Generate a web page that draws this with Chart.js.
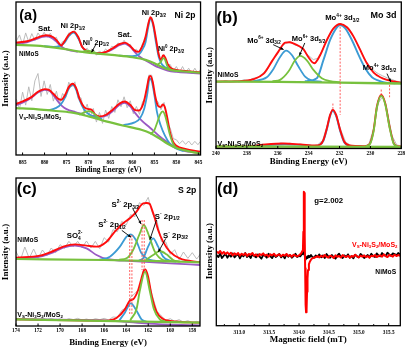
<!DOCTYPE html>
<html><head><meta charset="utf-8">
<script src="https://cdn.jsdelivr.net/npm/chart.js@4.4.1/dist/chart.umd.min.js"></script>
<style>
html,body{margin:0;padding:0;background:#fff;width:415px;height:350px;overflow:hidden}
.p{position:absolute}
canvas{display:block}
</style></head><body>
<div class="p" style="left:0;top:0;width:207px;height:175px"><canvas id="ca" width="207" height="175" style="width:207px;height:175px"></canvas></div>
<div class="p" style="left:203px;top:0;width:212px;height:175px"><canvas id="cb" width="212" height="175" style="width:212px;height:175px"></canvas></div>
<div class="p" style="left:0;top:175px;width:207px;height:175px"><canvas id="cc" width="207" height="175" style="width:207px;height:175px"></canvas></div>
<div class="p" style="left:203px;top:175px;width:212px;height:175px"><canvas id="cd" width="212" height="175" style="width:212px;height:175px"></canvas></div>
<script>
// ---------------- tick labels ----------------
const ticksA = [885,880,875,870,865,860,855,850,845];
const ticksB = [240,238,236,234,232,230,228];
const ticksC = [174,172,170,168,166,164,162,160,158];
const ticksD = [313.0,313.5,314.0,314.5,315.0,315.5];
const minorD = [312.75,313.25,313.75,314.25,314.75,315.25];

// ---------------- (a) Ni 2p : binding energy (eV), intensity (a.u.) ----------------
const energiesA = [886.4,885.7,885.0,884.3,883.6,882.9,882.2,881.5,880.8,880.1,879.4,878.7,878.0,877.3,876.6,875.9,875.2,874.5,873.8,873.1,872.4,871.7,871.0,870.3,869.6,868.9,868.2,867.5,866.8,866.1,865.4,864.7,864.0,863.3,862.6,861.9,861.2,860.5,859.8,859.1,858.4,857.7,857.0,856.3,855.6,854.9,854.2,853.5,852.8,852.1,851.4,850.7,850.0,849.3,848.6,847.9,847.2,846.5,845.8,845.1,844.6];
const rawNiMoS_A = [343,361,332,367,340,365,344,367,353,369,354,366,349,354,328,341,344,367,366,374,350,339,314,321,305,316,300,313,303,319,310,327,322,337,330,345,329,333,313,318,308,335,350,403,414,364,317,281,302,272,272,253,266,248,266,248,261,245,261,245,256];
const rawVs_A = [167,138,189,150,205,163,223,245,176,223,182,212,162,192,153,185,172,219,205,220,170,172,130,153,115,140,99,128,95,135,110,146,128,166,145,175,142,163,124,146,122,160,172,240,240,169,160,136,158,98,81,49,46,34,43,32,42,30,41,31,40];
const envNiMoS_A = [[886.5,338],[884,342],[882,351],[880.5,358],[879.6,360],[878,354],[877,341],[876.2,329],[875.5,341],[874.5,361],[873.4,371],[872.3,354],[871.5,326],[870.5,314],[869.5,309],[868,306],[866,310],[864.5,321],[863,333],[861.7,338],[860.5,328],[859.5,314],[858.7,310],[857.8,326],[857,356],[856.4,394],[855.9,414],[855.3,396],[854.6,346],[854,301],[853.5,286],[853,300],[852.5,292],[852,274],[851.2,261],[850,256],[848,253],[844.5,248]];
const bgNiMoS_A = [[886.5,331],[882,329],[879.6,326],[876,320],[872,311],[868,305],[864,300],[860,294],[857,286],[855,276],[853.5,266],[852,258],[850,253],[847,250],[844.5,247]];
const ni0a_NiMoS_A = [[871.2,311],[870.2,314],[869.2,311],[868.2,306]];
const ni0b_NiMoS_A = [[854.2,272],[853.6,279],[853.2,288],[852.9,291],[852.5,284],[852.1,268],[851.6,259],[851,256]];
const ni12_NiMoS_A = [[880,327],[878,325],[876.5,328],[875.5,337],[874.5,357],[873.4,368],[872.3,350],[871.4,324],[870.4,313],[869,308],[867.5,305]];
const ni32_NiMoS_A = [[863,299],[860,297],[858.5,303],[857.7,318],[857,340],[856.4,385],[855.9,410],[855.3,390],[854.6,335],[854,294],[853.3,273],[852.3,262],[851,256],[849.5,252]];
const sat1_NiMoS_A = [[886.5,336],[884,339],[882,348],[880.5,355],[879.6,357],[878.5,353],[877.5,343],[876.5,330],[875.5,320],[874,314],[872.5,311]];
const sat2_NiMoS_A = [[869,307],[867,307],[865.5,312],[864.5,318],[863,330],[861.7,335],[860.5,325],[859.5,310],[858.5,297],[857,284],[855.5,273],[854,263],[852,254],[850,250],[847,247],[844.5,245]];
const envVs_A = [[886.5,154],[885,161],[883,174],[881.5,190],[880,198],[879,196],[878,184],[877,170],[876.2,166],[875.3,181],[874.5,204],[873.6,214],[872.8,201],[872,168],[871,144],[870,138],[869.3,136],[868.5,122],[867.5,116],[866,121],[864.5,136],[863,154],[861.8,161],[860.5,151],[859.5,136],[858.5,134],[857.5,156],[856.8,196],[856.2,234],[855.9,238],[855.4,221],[854.8,176],[854.2,148],[853.6,144],[853.1,152],[852.6,143],[852.1,114],[851.5,71],[850.8,41],[850,28],[848,18],[844.5,10]];
const bgVs_A = [[886.5,141],[882,138],[878,133],[874,128],[870,116],[866,101],[862,88],[858,76],[856,66],[854,51],[852,34],[850,21],[847,11],[844.5,4]];
const ni0a_Vs_A = [[872,122],[871.2,127],[870.4,131],[869.8,132],[869,127],[868.2,117],[867.5,112]];
const ni0b_Vs_A = [[855.8,64],[855,75],[854.3,100],[853.7,122],[853.1,131],[852.6,120],[852.1,95],[851.5,62],[850.9,38],[850.2,24],[849.5,18]];
const ni12_Vs_A = [[879,135],[877.5,141],[876.3,152],[875.3,174],[874.5,199],[873.6,211],[872.8,196],[872,164],[871,137],[870,123],[868.5,114],[867,108]];
const ni32_Vs_A = [[862,90],[859.5,98],[858.3,110],[857.3,140],[856.6,185],[856.1,230],[855.6,222],[855,180],[854.4,128],[853.6,90],[852.6,58],[851.5,34],[850.2,20],[848.5,12]];
const sat1_Vs_A = [[886.5,150],[885,157],[883,172],[881.5,188],[880,196],[879,194],[878,180],[877,162],[876,147],[875,138],[873,129],[871,122]];
const sat2_Vs_A = [[869,118],[867.5,114],[866,118],[864.5,132],[863,150],[861.8,157],[860.5,146],[859.5,128],[858,105],[856,82],[854,58],[852,38],[850,22],[848,12],[846,8],[844.5,5]];

// ---------------- (b) Mo 3d ----------------
const energiesB = [240.0,239.7,239.4,239.1,238.8,238.5,238.2,237.9,237.6,237.3,237.0,236.7,236.4,236.1,235.8,235.5,235.2,234.9,234.6,234.3,234.0,233.7,233.4,233.1,232.8,232.5,232.2,231.9,231.6,231.3,231.0,230.7,230.4,230.1,229.8,229.5,229.2,228.9,228.6,228.3,228.0];
const rawNiMoS_B = [204,200,205,201,204,201,208,205,212,213,226,235,264,280,305,316,322,312,308,293,280,268,272,298,326,358,368,377,364,354,328,303,270,252,236,226,219,213,208,203,201];
const rawVs_B = [9,6,8,6,9,6,9,7,11,9,14,12,16,13,18,15,17,12,15,11,13,9,13,25,70,118,96,55,20,11,7,10,7,14,60,136,158,110,40,12,8];
const envNiMoS_B = [[240,202],[238.5,203],[237.58,209],[236.93,225],[236.39,262],[235.96,292],[235.52,319],[235.25,320],[234.95,316],[234.6,308],[234.35,300],[234.01,275],[233.64,257],[233.25,282],[232.82,327],[232.39,362],[231.96,375],[231.52,365],[231.09,337],[230.66,297],[230.23,257],[229.79,229],[229.36,215],[228.93,207],[228,198]];
const bgNiMoS_B = [[240,202],[236,201],[232,199],[228,196]];
const mo6a_NiMoS_B = [[237.6,203],[236.71,215],[236.28,240],[235.85,276],[235.46,295],[235.09,282],[234.66,247],[234.23,217],[233.79,205],[233.2,202]];
const mo4a_NiMoS_B = [[234.2,203],[233.47,212],[233.04,267],[232.61,327],[232.17,365],[231.96,372],[231.63,362],[231.2,327],[230.77,282],[230.34,242],[229.9,215],[229.47,205],[229,199],[228.4,197]];
const mo6b_NiMoS_B = [[236.3,203],[235.85,207],[235.31,232],[234.88,266],[234.55,279],[234.12,266],[233.69,237],[233.15,212],[232.6,203],[232,200]];
const envVs_B = [[240,7],[237.8,8],[236.8,13],[235.6,16],[234.5,13],[233.6,10],[233.25,13],[233.04,27],[232.82,62],[232.61,102],[232.43,117],[232.22,102],[231.96,57],[231.7,22],[231.35,10],[230.5,8],[230.2,10],[230.01,18],[229.79,57],[229.58,127],[229.3,162],[229.04,137],[228.76,67],[228.5,18],[228.25,8],[228,7]];
const bgVs_B = [[240,7],[228,6]];
const mo6_Vs_B = [[237.6,7],[236.6,11],[235.5,13],[234.4,11],[233.5,8]];
const mo4a_Vs_B = [[233.4,8],[233.04,25],[232.82,59],[232.61,99],[232.43,114],[232.22,99],[231.96,54],[231.7,20],[231.4,9],[231,7]];
const mo4b_Vs_B = [[230.3,7],[230.01,16],[229.79,54],[229.58,124],[229.3,159],[229.04,134],[228.76,64],[228.5,16],[228.25,7]];

// ---------------- (c) S 2p ----------------
const energiesC = [174.0,173.6,173.2,172.8,172.4,172.0,171.6,171.2,170.8,170.4,170.0,169.6,169.2,168.8,168.4,168.0,167.6,167.2,166.8,166.4,166.0,165.6,165.2,164.8,164.4,164.0,163.6,163.2,162.8,162.4,162.0,161.6,161.2,160.8,160.4,160.0,159.6,159.2,158.8,158.4,158.0,157.6,157.2];
const rawNiMoS_C = [223,198,237,203,231,202,228,211,234,220,244,233,254,238,254,235,255,234,254,232,265,252,289,283,314,303,334,328,370,362,386,337,315,253,252,215,229,199,222,203,220,201,219];
const rawVs_C = [22,18,23,19,22,17,23,19,22,18,21,17,22,19,23,18,21,17,22,19,23,18,27,26,47,55,86,98,112,172,140,88,44,30,17,22,14,19,12,16,10,14,9];
const envNiMoS_C = [[174,205],[171.82,211],[170.62,225],[169.71,238],[168.65,245],[167.6,241],[166.69,238],[165.78,253],[165.03,283],[164.27,308],[163.67,323],[163.06,343],[162.76,358],[162.46,368],[162.16,369],[161.86,366],[161.7,353],[161.4,323],[161.1,288],[160.65,253],[160.04,223],[159.14,203],[157.3,191]];
const bgNiMoS_C = [[174,201],[166,198],[160,194],[157.3,191]];
const so4_NiMoS_C = [[174,203],[171.82,208],[170.62,221],[169.71,235],[168.65,241],[167.6,233],[166.69,213],[165.78,201],[163.4,195],[160,188],[157.3,183]];
const s2p12_NiMoS_C = [[166.4,199],[165.48,208],[164.57,238],[163.97,268],[163.58,275],[163.12,258],[162.61,218],[162.01,200],[161.4,196]];
const s1p12_NiMoS_C = [[162.8,197],[162.46,203],[162.01,238],[161.55,263],[161.1,238],[160.65,208],[160.04,196],[159.5,193]];
const s2p32_NiMoS_C = [[164.6,199],[163.97,203],[163.37,228],[162.76,278],[162.4,303],[162.01,278],[161.4,223],[160.65,198],[160,195]];
const s1p32_NiMoS_C = [[162.2,198],[161.55,213],[160.95,225],[160.34,215],[159.74,198],[159.14,193]];
const envVs_C = [[174,20],[166,16],[165.5,17],[164.88,24],[164.12,50],[163.67,76],[163.37,80],[162.91,108],[162.61,143],[162.37,168],[162.25,170],[162.01,148],[161.7,93],[161.25,43],[160.65,21],[160,15],[157.3,10]];
const bgVs_C = [[174,20],[157.3,10]];
const so4_Vs_C = [[174,21],[170,19],[166,17],[164.5,14],[162,7],[159,3],[157.3,2]];
const s2p12_Vs_C = [[164.6,18],[164.12,40],[163.58,68],[163.06,46],[162.61,20],[162.2,13]];
const s2p32_Vs_C = [[163.6,19],[163.06,51],[162.76,106],[162.28,163],[161.86,106],[161.49,51],[160.95,20],[160.5,14]];

// ---------------- (d) EPR : magnetic field (mT) ----------------
const fieldsD = [312.62,312.65,312.68,312.71,312.74,312.77,312.80,312.83,312.86,312.89,312.92,312.95,312.98,313.01,313.04,313.07,313.10,313.13,313.16,313.19,313.22,313.25,313.28,313.31,313.34,313.37,313.40,313.43,313.46,313.49,313.52,313.55,313.58,313.61,313.64,313.67,313.70,313.73,313.76,313.79,313.82,313.85,313.88,313.91,313.94,313.97,314.00,
314.02,314.04,314.055,314.065,314.072,314.08,314.088,314.095,314.102,314.11,314.118,314.126,314.134,314.142,314.15,314.165,314.18,314.2,314.22,314.25,314.28,
314.31,314.34,314.37,314.40,314.43,314.46,314.49,314.52,314.55,314.58,314.61,314.64,314.67,314.70,314.73,314.76,314.79,314.82,314.85,314.88,314.91,314.94,314.97,315.00,315.03,315.06,315.09,315.12,315.15,315.18,315.21,315.24,315.27,315.30,315.33,315.36,315.39,315.42,315.45,315.48,315.51,315.54,315.57,315.60,315.63,315.66,315.69];
const eprVs = [10,6,12,4,9,3,8,2,7,-1,5,1,6,-2,4,0,5,-3,3,1,6,-2,2,-4,3,0,5,-2,1,-5,2,-1,4,-3,0,2,-4,1,-2,3,-3,0,-5,1,-2,-4,-1,
2,6,12,16,70,190,186,60,-40,-150,-172,-165,-110,-70,-45,-28,-20,-14,-10,-8,-6,
-3,-7,-2,-6,0,-5,-8,-2,-4,-9,-1,-5,-3,-7,0,-4,-6,-2,-8,-3,-5,1,-4,-7,-2,-5,-1,-6,-3,-8,-2,-4,0,-6,-3,-1,-5,2,-3,-6,0,-2,-5,1,-3,0,-2];
const eprNiMoS = [0,-6,4,-9,-2,3,-8,1,-5,5,-7,-1,2,-10,0,-4,6,-6,-1,-9,3,-3,-7,2,-5,-11,0,-2,-8,4,-4,-9,1,-6,-2,3,-7,-1,-10,2,-5,0,-8,-3,4,-6,-2,
-4,1,3,6,10,12,5,-2,-8,-14,-10,-6,-9,-3,-7,-2,-6,0,-5,-8,-1,
-5,2,-7,-1,-9,3,-4,-8,0,-6,-11,-2,4,-5,-9,-1,-6,2,-8,-3,-10,1,-4,-7,3,-2,-9,-5,0,-7,4,-3,-6,5,-1,-4,6,0,-3,7,2,-2,5,3,-1,6,2];

// ---------------- helpers ----------------
const SANS = '"Liberation Sans", Arial, Helvetica, sans-serif';
const SERIF = '"Liberation Serif", "Times New Roman", Times, serif';
const RED = '#ff0d0d', BLUE = '#3c9bd4', GREEN = '#78c13e', PURPLE = '#9a5ac4', GREY = '#b4b4b4';

function P(arr){ return arr.map(p => ({x:p[0], y:p[1]})); }
function Z(xs, ys){ return xs.map((x,i) => ({x:x, y:ys[i]})); }
function L(data, color, w, smooth){
  return {data:data, borderColor:color, backgroundColor:color, borderWidth:w, pointRadius:0, fill:false,
          tension:0, cubicInterpolationMode: smooth ? 'monotone' : 'default', borderJoinStyle:'round', borderCapStyle:'round'};
}

function rich(ctx, x, y, parts, size, color){
  const sm = size*0.62; let w = 0, prev = 0; const lay = [];
  for (const p of parts){
    const t = p[0], m = p[1] || '';
    const fs = m ? sm : size;
    ctx.font = 'bold ' + fs + 'px ' + SANS;
    const tw = ctx.measureText(t).width;
    if (m === 'supS'){ lay.push([t, fs, prev, -size*0.38]); w = Math.max(w, prev+tw); continue; }
    const dy = m === 'sub' ? size*0.32 : (m === 'sup' ? -size*0.38 : 0);
    lay.push([t, fs, w, dy]); prev = w; w += tw;
  }
  ctx.fillStyle = color; ctx.textAlign = 'left'; ctx.textBaseline = 'middle';
  for (const l of lay){ ctx.font = 'bold ' + l[1] + 'px ' + SANS; ctx.fillText(l[0], x+l[2], y+l[3]); }
}

function notesPlugin(items, minor){
  return {id:'notes', afterDatasetsDraw(chart){
    const c = chart.ctx, a = chart.chartArea, sx = chart.scales.x, sy = chart.scales.y;
    c.save();
    c.strokeStyle = '#000'; c.lineWidth = 1;
    c.beginPath();
    for (const t of sx.ticks){ const px = sx.getPixelForValue(t.value); c.moveTo(px, a.bottom); c.lineTo(px, a.bottom-2.5); }
    for (const v of (minor||[])){ const px = sx.getPixelForValue(v); c.moveTo(px, a.bottom); c.lineTo(px, a.bottom-1.6); }
    c.stroke();
    for (const it of items){
      if (it.k === 'dash'){
        const px = sx.getPixelForValue(it.x), y1 = sy.getPixelForValue(it.y1), y2 = sy.getPixelForValue(it.y2);
        c.strokeStyle = '#ff4a4a'; c.lineWidth = 0.9; c.setLineDash([2,1.5]);
        const offs = it.dbl ? [-1.1, 1.1] : [0];
        c.beginPath();
        for (const o of offs){ c.moveTo(px+o, y1); c.lineTo(px+o, y2); }
        c.stroke(); c.setLineDash([]);
      } else if (it.k === 'arrow'){
        const x1 = sx.getPixelForValue(it.x1), y1 = sy.getPixelForValue(it.y1), x2 = sx.getPixelForValue(it.x2), y2 = sy.getPixelForValue(it.y2);
        c.strokeStyle = '#000'; c.fillStyle = '#000'; c.lineWidth = 0.9;
        c.beginPath(); c.moveTo(x1, y1); c.lineTo(x2, y2); c.stroke();
        const ang = Math.atan2(y2-y1, x2-x1), h = 3.4;
        c.beginPath(); c.moveTo(x2, y2);
        c.lineTo(x2 - h*Math.cos(ang-0.45), y2 - h*Math.sin(ang-0.45));
        c.lineTo(x2 - h*Math.cos(ang+0.45), y2 - h*Math.sin(ang+0.45));
        c.closePath(); c.fill();
      }
    }
    for (const it of items){
      if (it.k === 'text') rich(c, sx.getPixelForValue(it.x), sy.getPixelForValue(it.y), it.parts, it.size, it.color || '#000');
    }
    c.strokeStyle = '#000'; c.lineWidth = 1.3;
    c.strokeRect(a.left, a.top, a.right-a.left, a.bottom-a.top);
    c.restore();
  }};
}

function makeChart(id, cfg){
  return new Chart(document.getElementById(id), {
    type:'line',
    data:{datasets: cfg.datasets},
    options:{
      responsive:false, animation:false, devicePixelRatio:1, events:[],
      layout:{padding:{top:cfg.padTop, right:cfg.padRight, left:0, bottom:0}},
      plugins:{legend:{display:false}, tooltip:{enabled:false}},
      scales:{
        x:{type:'linear', reverse:cfg.reverse, min:cfg.xmin, max:cfg.xmax,
           afterBuildTicks: s => { s.ticks = cfg.ticks.map(v => ({value:v})); },
           afterFit: s => { s.height = cfg.xH; },
           grid:{display:false, drawTicks:false}, border:{display:false},
           ticks:{autoSkip:false, maxRotation:0, minRotation:0, padding:cfg.tickPad, color:'#000',
                  font:{family:SERIF, size:5.2, weight:'bold'}, callback: cfg.fmt},
           title:{display:true, text:cfg.xTitle, color:'#000', font:{family:SERIF, size:cfg.xTitleSize, weight:'bold'}, padding:{top:0, bottom:cfg.xTitlePadB}}},
        y:{type:'linear', min:cfg.ymin, max:cfg.ymax,
           afterFit: s => { s.width = cfg.yW; },
           grid:{display:false, drawTicks:false}, border:{display:false}, ticks:{display:false},
           title:{display:true, text:'Intensity (a.u.)', color:'#000', font:{family:SERIF, size:9, weight:'bold'}, padding:{top:cfg.yTitlePad, bottom:0}}}
      }
    },
    plugins:[notesPlugin(cfg.items, cfg.minor)]
  });
}

const T = (x, y, parts, size, color) => ({k:'text', x:x, y:y, parts:parts, size:size, color:color});
const VS = [['V'],['S','sub'],['-Ni'],['3','sub'],['S'],['2','sub'],['/MoS'],['2','sub']];

// ---------------- panel (a) ----------------
makeChart('ca', {
  reverse:true, xmin:844.5, xmax:886.5, ticks:ticksA, fmt: v => String(v),
  ymin:0, ymax:460, padTop:2, padRight:5, yW:16, xH:20, tickPad:4.7,
  xTitle:'Binding Energy (eV)', xTitleSize:7.5, xTitlePadB:0.5, yTitlePad:0.4,
  datasets:[
    L(P(bgNiMoS_A), GREEN, 2.2, true), L(P(ni0a_NiMoS_A), GREEN, 1.8, true), L(P(ni0b_NiMoS_A), GREEN, 1.8, true),
    L(P(bgVs_A), GREEN, 2.2, true), L(P(ni0a_Vs_A), GREEN, 1.8, true), L(P(ni0b_Vs_A), GREEN, 1.8, true),
    L(P(envNiMoS_A), RED, 1.9, true), L(P(envVs_A), RED, 1.9, true),
    L(P(ni12_NiMoS_A), BLUE, 1.8, true), L(P(ni32_NiMoS_A), BLUE, 1.8, true),
    L(P(ni12_Vs_A), BLUE, 1.8, true), L(P(ni32_Vs_A), BLUE, 1.8, true),
    L(P(sat1_NiMoS_A), PURPLE, 1.8, true), L(P(sat2_NiMoS_A), PURPLE, 1.8, true),
    L(P(sat1_Vs_A), PURPLE, 1.8, true), L(P(sat2_Vs_A), PURPLE, 1.8, true),
    L(Z(energiesA, rawNiMoS_A), GREY, 0.9, false), L(Z(energiesA, rawVs_A), GREY, 0.9, false)
  ],
  items:[
    T(885.75, 417, [['(a)']], 14.5),
    T(850.4, 418, [['Ni 2p']], 8.5),
    T(881.5, 378, [['Sat.']], 7.8),
    T(876.35, 388, [['Ni 2p'],['1/2','sub']], 7.4),
    T(871.3, 338, [['Ni'],['0','sup'],[' 2p'],['1/2','sub']], 7.2),
    {k:'arrow', x1:868.3, y1:333, x2:869.3, y2:309},
    T(863.4, 361, [['Sat.']], 7.8),
    T(857.9, 426, [['Ni 2p'],['3/2','sub']], 7.4),
    T(854.2, 318, [['Ni'],['0','sup'],[' 2p'],['3/2','sub']], 7.2),
    T(885.8, 303, [['NiMoS']], 6.3),
    T(885.8, 114, VS, 6.5)
  ]
});

// ---------------- panel (b) ----------------
makeChart('cb', {
  reverse:true, xmin:228, xmax:240, ticks:ticksB, fmt: v => String(v),
  ymin:1, ymax:441, padTop:2, padRight:13.7, yW:13, xH:26.5, tickPad:2,
  xTitle:'Binding Energy (eV)', xTitleSize:8.8, xTitlePadB:8, yTitlePad:1.1,
  datasets:[
    L(P(bgNiMoS_B), GREEN, 2.4, true), L(P(mo6b_NiMoS_B), GREEN, 1.8, true),
    L(P(bgVs_B), GREEN, 2.4, true), L(P(mo4b_Vs_B), GREEN, 1.9, true),
    L(P(envNiMoS_B), RED, 1.9, true), L(P(envVs_B), RED, 1.9, true),
    L(P(mo6a_NiMoS_B), BLUE, 1.8, true), L(P(mo4a_NiMoS_B), BLUE, 1.9, true),
    L(P(mo6_Vs_B), BLUE, 1.5, true), L(P(mo4a_Vs_B), BLUE, 1.9, true),
    L(Z(energiesB, rawNiMoS_B), GREY, 0.9, false), L(Z(energiesB, rawVs_B), GREY, 0.9, false)
  ],
  items:[
    {k:'dash', x:231.96, y1:367, y2:102},
    {k:'dash', x:228.76, y1:192, y2:155},
    {k:'dash', x:232.43, y1:136, y2:120},
    {k:'dash', x:229.3, y1:178, y2:164},
    T(239.96, 391, [['(b)']], 16.5),
    T(230.0, 399, [['Mo 3d']], 9),
    T(237.97, 325, [['Mo'],['6+','sup'],[' 3d'],['3/2','sub']], 7.5),
    {k:'arrow', x1:236.3, y1:313, x2:235.62, y2:298},
    T(235.09, 329, [['Mo'],['6+','sup'],[' 3d'],['5/2','sub']], 7.5),
    {k:'arrow', x1:234.25, y1:318, x2:234.6, y2:280},
    T(232.93, 392, [['Mo'],['4+','sup'],[' 3d'],['3/2','sub']], 7.7),
    T(230.49, 242, [['Mo'],['4+','sup'],[' 3d'],['5/2','sub']], 7.5),
    {k:'arrow', x1:228.93, y1:226, x2:228.68, y2:201},
    T(239.9, 222, [['NiMoS']], 6.7),
    T(239.9, 15, VS, 7)
  ]
});

// ---------------- panel (c) ----------------
makeChart('cc', {
  reverse:true, xmin:157.3, xmax:174, ticks:ticksC, fmt: v => String(v),
  ymin:0, ymax:444, padTop:3, padRight:7, yW:16, xH:24, tickPad:2,
  xTitle:'Binding Energy (eV)', xTitleSize:8.8, xTitlePadB:2.4, yTitlePad:0.4,
  datasets:[
    L(P(bgNiMoS_C), GREEN, 2.2, true), L(P(s2p32_NiMoS_C), GREEN, 1.8, true), L(P(s1p32_NiMoS_C), GREEN, 1.8, true),
    L(P(bgVs_C), GREEN, 2.2, true), L(P(s2p32_Vs_C), GREEN, 1.9, true),
    L(P(envNiMoS_C), RED, 1.9, true), L(P(envVs_C), RED, 1.9, true),
    L(P(s2p12_NiMoS_C), BLUE, 1.8, true), L(P(s1p12_NiMoS_C), BLUE, 1.8, true), L(P(s2p12_Vs_C), BLUE, 1.8, true),
    L(P(so4_NiMoS_C), PURPLE, 1.8, true), L(P(so4_Vs_C), PURPLE, 1.8, true),
    L(Z(energiesC, rawNiMoS_C), GREY, 0.9, false), L(Z(energiesC, rawVs_C), GREY, 0.9, false)
  ],
  items:[
    {k:'dash', x:163.58, y1:273, y2:33, dbl:true},
    {k:'dash', x:162.46, y1:318, y2:168, dbl:true},
    T(173.94, 411, [['(c)']], 16.5),
    T(159.3, 405, [['S 2p']], 8.7),
    T(165.33, 363, [['S'],['2-','sup'],[' 2p'],['3/2','sub']], 7.8),
    {k:'arrow', x1:163.4, y1:352, x2:162.65, y2:306},
    T(166.54, 303, [['S'],['2-','sup'],[' 2p'],['1/2','sub']], 7.8),
    {k:'arrow', x1:164.4, y1:287, x2:163.55, y2:266},
    T(161.4, 328, [['S'],['-','sup'],[' 2p'],['1/2','sub']], 7.8),
    {k:'arrow', x1:161.25, y1:318, x2:161.85, y2:259},
    T(160.65, 271, [['S'],['-','sup'],[' 2p'],['3/2','sub']], 7.8),
    {k:'arrow', x1:160.4, y1:263, x2:161.08, y2:222},
    T(169.4, 270, [['SO'],['4','sub'],['2-','supS']], 7.8),
    T(173.88, 258, [['NiMoS']], 6.7),
    T(173.88, 33, VS, 7)
  ]
});

// ---------------- panel (d) ----------------
makeChart('cd', {
  reverse:false, xmin:312.615, xmax:315.695, ticks:ticksD, fmt: v => v.toFixed(1), minor:minorD,
  ymin:-212, ymax:235, padTop:1.7, padRight:14.7, yW:13.3, xH:24.3, tickPad:3.6,
  xTitle:'Magnetic field (mT)', xTitleSize:9, xTitlePadB:4.6, yTitlePad:1.1,
  datasets:[
    L(Z(fieldsD, eprVs), '#ff0000', 2, false),
    L(Z(fieldsD, eprNiMoS), '#000000', 1.8, false)
  ],
  items:[
    T(312.628, 198, [['(d)']], 16.5),
    T(314.256, 162, [['g=2.002']], 7.8),
    T(314.886, 30, VS, 7, '#ff0000'),
    T(315.277, -50, [['NiMoS']], 6.7)
  ]
});
</script>
</body></html>
